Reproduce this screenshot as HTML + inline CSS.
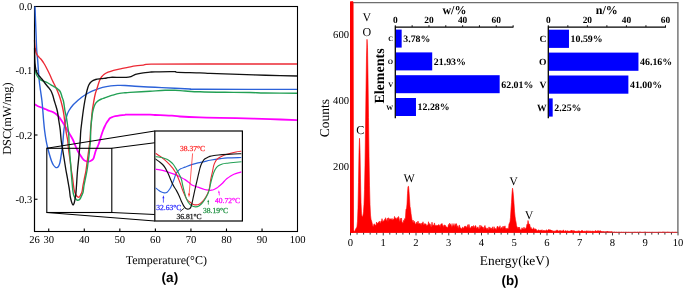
<!DOCTYPE html>
<html><head><meta charset="utf-8"><style>
html,body{margin:0;padding:0;background:#fff;}
body{width:685px;height:290px;overflow:hidden;}
svg{display:block;will-change:transform;text-rendering:geometricPrecision;}

</style></head><body>
<svg width="685" height="290" viewBox="0 0 685 290">
<rect width="685" height="290" fill="#fff"/>
<g stroke="#000" stroke-width="1.1" fill="none">
<rect x="34.5" y="6.5" width="263" height="225"/>
<line x1="34.5" y1="70.75" x2="37.5" y2="70.75"/>
<line x1="34.5" y1="135.00" x2="37.5" y2="135.00"/>
<line x1="34.5" y1="199.25" x2="37.5" y2="199.25"/>
<line x1="48.72" y1="231" x2="48.72" y2="228.5"/>
<line x1="84.28" y1="231" x2="84.28" y2="228.5"/>
<line x1="119.83" y1="231" x2="119.83" y2="228.5"/>
<line x1="155.38" y1="231" x2="155.38" y2="228.5"/>
<line x1="190.94" y1="231" x2="190.94" y2="228.5"/>
<line x1="226.49" y1="231" x2="226.49" y2="228.5"/>
<line x1="262.05" y1="231" x2="262.05" y2="228.5"/>
</g>
<text x="32.20" y="10.10" font-family="Liberation Serif" font-size="10.6" font-weight="normal" text-anchor="end" fill="#000" >0.0</text>
<text x="32.20" y="74.35" font-family="Liberation Serif" font-size="10.6" font-weight="normal" text-anchor="end" fill="#000" >-0.1</text>
<text x="32.20" y="138.60" font-family="Liberation Serif" font-size="10.6" font-weight="normal" text-anchor="end" fill="#000" >-0.2</text>
<text x="32.20" y="202.85" font-family="Liberation Serif" font-size="10.6" font-weight="normal" text-anchor="end" fill="#000" >-0.3</text>
<text x="34.50" y="242.50" font-family="Liberation Serif" font-size="10.6" font-weight="normal" text-anchor="middle" fill="#000" >26</text>
<text x="48.72" y="242.50" font-family="Liberation Serif" font-size="10.6" font-weight="normal" text-anchor="middle" fill="#000" >30</text>
<text x="84.28" y="242.50" font-family="Liberation Serif" font-size="10.6" font-weight="normal" text-anchor="middle" fill="#000" >40</text>
<text x="119.83" y="242.50" font-family="Liberation Serif" font-size="10.6" font-weight="normal" text-anchor="middle" fill="#000" >50</text>
<text x="155.38" y="242.50" font-family="Liberation Serif" font-size="10.6" font-weight="normal" text-anchor="middle" fill="#000" >60</text>
<text x="190.94" y="242.50" font-family="Liberation Serif" font-size="10.6" font-weight="normal" text-anchor="middle" fill="#000" >70</text>
<text x="226.49" y="242.50" font-family="Liberation Serif" font-size="10.6" font-weight="normal" text-anchor="middle" fill="#000" >80</text>
<text x="262.05" y="242.50" font-family="Liberation Serif" font-size="10.6" font-weight="normal" text-anchor="middle" fill="#000" >90</text>
<text x="297.60" y="242.50" font-family="Liberation Serif" font-size="10.6" font-weight="normal" text-anchor="middle" fill="#000" >100</text>
<text x="0.00" y="0.00" font-family="Liberation Serif" font-size="12.3" font-weight="normal" text-anchor="middle" fill="#000" transform="translate(11.3,118.6) rotate(-90)">DSC(mW/mg)</text>
<text x="166.30" y="264.40" font-family="Liberation Serif" font-size="12" font-weight="normal" text-anchor="middle" fill="#000" >Temperature(°C)</text>
<text x="169.90" y="282.20" font-family="Liberation Sans" font-size="13.6" font-weight="bold" text-anchor="middle" fill="#000" >(a)</text>
<path d="M34.50,104.20 C35.08,104.53 36.50,105.52 38.00,106.20 C39.50,106.88 42.00,107.70 43.50,108.30 C45.00,108.90 45.92,109.35 47.00,109.80 C48.08,110.25 49.00,110.62 50.00,111.00 C51.00,111.38 52.00,111.60 53.00,112.10 C54.00,112.60 55.05,113.25 56.00,114.00 C56.95,114.75 57.78,115.52 58.70,116.60 C59.62,117.68 60.55,119.07 61.50,120.50 C62.45,121.93 63.48,123.70 64.40,125.20 C65.32,126.70 66.07,127.93 67.00,129.50 C67.93,131.07 69.03,132.93 70.00,134.60 C70.97,136.27 71.88,137.60 72.80,139.50 C73.72,141.40 74.63,144.00 75.50,146.00 C76.37,148.00 77.17,149.92 78.00,151.50 C78.83,153.08 79.75,154.33 80.50,155.50 C81.25,156.67 81.83,157.67 82.50,158.50 C83.17,159.33 83.62,159.98 84.50,160.50 C85.38,161.02 86.80,161.52 87.80,161.60 C88.80,161.68 89.60,161.43 90.50,161.00 C91.40,160.57 92.55,159.92 93.20,159.00 C93.85,158.08 93.98,156.83 94.40,155.50 C94.82,154.17 95.23,152.33 95.70,151.00 C96.17,149.67 96.70,148.67 97.20,147.50 C97.70,146.33 98.23,145.25 98.70,144.00 C99.17,142.75 99.57,141.42 100.00,140.00 C100.43,138.58 100.80,137.08 101.30,135.50 C101.80,133.92 102.43,132.00 103.00,130.50 C103.57,129.00 104.13,127.73 104.70,126.50 C105.27,125.27 105.82,124.10 106.40,123.10 C106.98,122.10 107.63,121.30 108.20,120.50 C108.77,119.70 109.08,118.88 109.80,118.30 C110.52,117.72 111.58,117.35 112.50,117.00 C113.42,116.65 114.05,116.47 115.30,116.20 C116.55,115.93 118.38,115.63 120.00,115.40 C121.62,115.17 123.67,114.93 125.00,114.80 C126.33,114.67 123.83,114.63 128.00,114.60 C132.17,114.57 145.50,114.53 150.00,114.60 C154.50,114.67 152.50,114.88 155.00,115.00 C157.50,115.12 162.17,115.18 165.00,115.30 C167.83,115.42 169.50,115.50 172.00,115.70 C174.50,115.90 175.33,116.22 180.00,116.50 C184.67,116.78 193.33,117.17 200.00,117.40 C206.67,117.63 212.50,117.73 220.00,117.90 C227.50,118.07 236.67,118.20 245.00,118.40 C253.33,118.60 261.33,118.80 270.00,119.10 C278.67,119.40 292.50,120.02 297.00,120.20" fill="none" stroke="#ff00ff" stroke-width="1.8" stroke-linejoin="round"/>
<path d="M35.00,6.50 C35.08,8.75 35.32,15.25 35.50,20.00 C35.68,24.75 35.90,30.00 36.10,35.00 C36.30,40.00 36.43,45.75 36.70,50.00 C36.97,54.25 37.42,57.08 37.70,60.50 C37.98,63.92 38.15,67.17 38.40,70.50 C38.65,73.83 38.85,77.17 39.20,80.50 C39.55,83.83 40.05,87.17 40.50,90.50 C40.95,93.83 41.52,97.17 41.90,100.50 C42.28,103.83 42.52,107.17 42.80,110.50 C43.08,113.83 43.30,117.17 43.60,120.50 C43.90,123.83 44.18,127.17 44.60,130.50 C45.02,133.83 45.60,137.67 46.10,140.50 C46.60,143.33 47.02,145.08 47.60,147.50 C48.18,149.92 48.95,152.75 49.60,155.00 C50.25,157.25 50.87,159.33 51.50,161.00 C52.13,162.67 52.75,163.97 53.40,165.00 C54.05,166.03 54.80,166.77 55.40,167.20 C56.00,167.63 56.48,167.73 57.00,167.60 C57.52,167.47 58.00,167.28 58.50,166.40 C59.00,165.52 59.58,163.95 60.00,162.30 C60.42,160.65 60.70,158.38 61.00,156.50 C61.30,154.62 61.55,152.83 61.80,151.00 C62.05,149.17 62.30,147.25 62.50,145.50 C62.70,143.75 62.80,142.75 63.00,140.50 C63.20,138.25 63.45,134.42 63.70,132.00 C63.95,129.58 64.17,127.92 64.50,126.00 C64.83,124.08 65.28,122.33 65.70,120.50 C66.12,118.67 66.45,116.67 67.00,115.00 C67.55,113.33 68.00,112.17 69.00,110.50 C70.00,108.83 71.55,106.67 73.00,105.00 C74.45,103.33 76.20,101.83 77.70,100.50 C79.20,99.17 80.62,98.02 82.00,97.00 C83.38,95.98 84.67,95.22 86.00,94.40 C87.33,93.58 88.45,92.87 90.00,92.10 C91.55,91.33 93.20,90.58 95.30,89.80 C97.40,89.02 100.02,88.05 102.60,87.40 C105.18,86.75 108.28,86.23 110.80,85.90 C113.32,85.57 115.33,85.47 117.70,85.40 C120.07,85.33 122.12,85.35 125.00,85.50 C127.88,85.65 130.00,86.00 135.00,86.30 C140.00,86.60 148.33,86.97 155.00,87.30 C161.67,87.63 169.17,88.02 175.00,88.30 C180.83,88.58 185.83,88.83 190.00,89.00 C194.17,89.17 182.17,89.23 200.00,89.30 C217.83,89.37 280.83,89.38 297.00,89.40" fill="none" stroke="#2c62d9" stroke-width="1.4" stroke-linejoin="round"/>
<path d="M34.50,40.00 C34.55,40.83 34.65,43.42 34.80,45.00 C34.95,46.58 35.17,48.17 35.40,49.50 C35.63,50.83 35.88,52.05 36.20,53.00 C36.52,53.95 36.90,54.57 37.30,55.20 C37.70,55.83 38.10,56.25 38.60,56.80 C39.10,57.35 39.73,57.88 40.30,58.50 C40.87,59.12 41.38,59.67 42.00,60.50 C42.62,61.33 43.33,62.42 44.00,63.50 C44.67,64.58 45.37,65.83 46.00,67.00 C46.63,68.17 47.10,69.08 47.80,70.50 C48.50,71.92 49.43,73.83 50.20,75.50 C50.97,77.17 51.62,78.83 52.40,80.50 C53.18,82.17 54.10,83.83 54.90,85.50 C55.70,87.17 56.48,88.83 57.20,90.50 C57.92,92.17 58.60,93.83 59.20,95.50 C59.80,97.17 60.32,98.83 60.80,100.50 C61.28,102.17 61.70,103.83 62.10,105.50 C62.50,107.17 62.88,108.83 63.20,110.50 C63.52,112.17 63.77,113.83 64.00,115.50 C64.23,117.17 64.38,118.83 64.60,120.50 C64.82,122.17 65.08,123.83 65.30,125.50 C65.52,127.17 65.65,128.83 65.90,130.50 C66.15,132.17 66.50,133.83 66.80,135.50 C67.10,137.17 67.43,138.42 67.70,140.50 C67.97,142.58 68.12,145.50 68.40,148.00 C68.68,150.50 69.08,153.22 69.40,155.50 C69.72,157.78 70.03,159.62 70.30,161.70 C70.57,163.78 70.78,166.28 71.00,168.00 C71.22,169.72 71.38,170.67 71.60,172.00 C71.82,173.33 72.03,174.17 72.30,176.00 C72.57,177.83 72.90,180.72 73.20,183.00 C73.50,185.28 73.75,187.93 74.10,189.70 C74.45,191.47 74.83,192.52 75.30,193.60 C75.77,194.68 76.40,195.60 76.90,196.20 C77.40,196.80 77.83,197.13 78.30,197.20 C78.77,197.27 79.25,197.12 79.70,196.60 C80.15,196.08 80.60,194.97 81.00,194.10 C81.40,193.23 81.77,192.83 82.10,191.40 C82.43,189.97 82.60,187.73 83.00,185.50 C83.40,183.27 84.00,180.50 84.50,178.00 C85.00,175.50 85.58,173.00 86.00,170.50 C86.42,168.00 86.67,165.50 87.00,163.00 C87.33,160.50 87.67,158.00 88.00,155.50 C88.33,153.00 88.67,150.50 89.00,148.00 C89.33,145.50 89.72,143.42 90.00,140.50 C90.28,137.58 90.47,133.83 90.70,130.50 C90.93,127.17 91.13,123.83 91.40,120.50 C91.67,117.17 91.95,113.42 92.30,110.50 C92.65,107.58 93.17,105.00 93.50,103.00 C93.83,101.00 93.97,100.17 94.30,98.50 C94.63,96.83 95.05,94.67 95.50,93.00 C95.95,91.33 96.52,90.00 97.00,88.50 C97.48,87.00 97.93,85.42 98.40,84.00 C98.87,82.58 99.28,81.17 99.80,80.00 C100.32,78.83 100.82,77.92 101.50,77.00 C102.18,76.08 102.80,75.30 103.90,74.50 C105.00,73.70 106.48,72.90 108.10,72.20 C109.72,71.50 111.53,70.87 113.60,70.30 C115.67,69.73 118.13,69.28 120.50,68.80 C122.87,68.32 125.30,67.88 127.80,67.40 C130.30,66.92 132.92,66.28 135.50,65.90 C138.08,65.52 140.72,65.38 143.30,65.10 C145.88,64.82 141.55,64.38 151.00,64.20 C160.45,64.02 175.67,64.03 200.00,64.00 C224.33,63.97 280.83,64.00 297.00,64.00" fill="none" stroke="#ec2a35" stroke-width="1.35" stroke-linejoin="round"/>
<path d="M34.80,69.00 C35.00,69.75 35.55,72.25 36.00,73.50 C36.45,74.75 36.92,75.58 37.50,76.50 C38.08,77.42 38.75,78.32 39.50,79.00 C40.25,79.68 40.97,80.12 42.00,80.60 C43.03,81.08 44.70,81.50 45.70,81.90 C46.70,82.30 47.13,82.52 48.00,83.00 C48.87,83.48 49.98,84.25 50.90,84.80 C51.82,85.35 52.63,85.80 53.50,86.30 C54.37,86.80 55.35,87.30 56.10,87.80 C56.85,88.30 57.38,88.77 58.00,89.30 C58.62,89.83 59.30,90.30 59.80,91.00 C60.30,91.70 60.62,92.47 61.00,93.50 C61.38,94.53 61.72,96.03 62.10,97.20 C62.48,98.37 62.95,99.12 63.30,100.50 C63.65,101.88 63.93,103.83 64.20,105.50 C64.47,107.17 64.60,108.83 64.90,110.50 C65.20,112.17 65.67,113.83 66.00,115.50 C66.33,117.17 66.63,118.83 66.90,120.50 C67.17,122.17 67.37,123.83 67.60,125.50 C67.83,127.17 68.10,128.83 68.30,130.50 C68.50,132.17 68.67,133.28 68.80,135.50 C68.93,137.72 68.97,141.27 69.10,143.80 C69.23,146.33 69.40,147.95 69.60,150.70 C69.80,153.45 70.08,157.58 70.30,160.30 C70.52,163.02 70.70,164.40 70.90,167.00 C71.10,169.60 71.28,173.07 71.50,175.90 C71.72,178.73 71.97,181.48 72.20,184.00 C72.43,186.52 72.67,189.20 72.90,191.00 C73.13,192.80 73.28,193.70 73.60,194.80 C73.92,195.90 74.30,196.78 74.80,197.60 C75.30,198.42 76.08,199.25 76.60,199.70 C77.12,200.15 77.33,200.42 77.90,200.30 C78.47,200.18 79.37,199.80 80.00,199.00 C80.63,198.20 81.18,196.65 81.70,195.50 C82.22,194.35 82.72,193.77 83.10,192.10 C83.48,190.43 83.60,187.85 84.00,185.50 C84.40,183.15 85.00,180.50 85.50,178.00 C86.00,175.50 86.58,173.00 87.00,170.50 C87.42,168.00 87.67,165.50 88.00,163.00 C88.33,160.50 88.72,158.00 89.00,155.50 C89.28,153.00 89.45,150.50 89.70,148.00 C89.95,145.50 90.35,143.50 90.50,140.50 C90.65,137.50 90.48,132.75 90.60,130.00 C90.72,127.25 90.98,126.07 91.20,124.00 C91.42,121.93 91.68,119.43 91.90,117.60 C92.12,115.77 92.27,114.38 92.50,113.00 C92.73,111.62 93.02,110.42 93.30,109.30 C93.58,108.18 93.87,107.22 94.20,106.30 C94.53,105.38 94.87,104.53 95.30,103.80 C95.73,103.07 96.22,102.48 96.80,101.90 C97.38,101.32 98.02,100.78 98.80,100.30 C99.58,99.82 100.58,99.38 101.50,99.00 C102.42,98.62 103.22,98.38 104.30,98.00 C105.38,97.62 106.62,97.17 108.00,96.70 C109.38,96.23 110.68,95.75 112.60,95.20 C114.52,94.65 117.43,93.80 119.50,93.40 C121.57,93.00 123.25,92.97 125.00,92.80 C126.75,92.63 125.83,92.67 130.00,92.40 C134.17,92.13 144.17,91.55 150.00,91.20 C155.83,90.85 160.83,90.45 165.00,90.30 C169.17,90.15 171.67,90.18 175.00,90.30 C178.33,90.42 180.83,90.75 185.00,91.00 C189.17,91.25 193.33,91.58 200.00,91.80 C206.67,92.02 216.67,92.18 225.00,92.30 C233.33,92.42 243.33,92.38 250.00,92.50 C256.67,92.62 257.17,92.87 265.00,93.00 C272.83,93.13 291.67,93.25 297.00,93.30" fill="none" stroke="#23a055" stroke-width="1.4" stroke-linejoin="round"/>
<path d="M34.60,48.00 C34.63,50.00 34.68,57.00 34.80,60.00 C34.92,63.00 35.07,64.17 35.30,66.00 C35.53,67.83 35.75,69.58 36.20,71.00 C36.65,72.42 37.28,73.42 38.00,74.50 C38.72,75.58 39.67,76.50 40.50,77.50 C41.33,78.50 42.08,79.33 43.00,80.50 C43.92,81.67 45.08,83.33 46.00,84.50 C46.92,85.67 47.70,86.50 48.50,87.50 C49.30,88.50 50.10,89.25 50.80,90.50 C51.50,91.75 52.13,93.33 52.70,95.00 C53.27,96.67 53.68,98.75 54.20,100.50 C54.72,102.25 55.30,103.83 55.80,105.50 C56.30,107.17 56.82,108.83 57.20,110.50 C57.58,112.17 57.83,113.83 58.10,115.50 C58.37,117.17 58.55,118.83 58.80,120.50 C59.05,122.17 59.35,123.83 59.60,125.50 C59.85,127.17 60.03,128.00 60.30,130.50 C60.57,133.00 60.85,137.58 61.20,140.50 C61.55,143.42 62.00,145.50 62.40,148.00 C62.80,150.50 63.20,153.00 63.60,155.50 C64.00,158.00 64.40,160.50 64.80,163.00 C65.20,165.50 65.57,168.00 66.00,170.50 C66.43,173.00 66.95,175.50 67.40,178.00 C67.85,180.50 68.33,183.33 68.70,185.50 C69.07,187.67 69.33,189.10 69.60,191.00 C69.87,192.90 69.95,195.00 70.30,196.90 C70.65,198.80 71.28,201.08 71.70,202.40 C72.12,203.72 72.45,204.52 72.80,204.80 C73.15,205.08 73.47,204.85 73.80,204.10 C74.13,203.35 74.47,201.97 74.80,200.30 C75.13,198.63 75.53,196.32 75.80,194.10 C76.07,191.88 76.12,190.93 76.40,187.00 C76.68,183.07 77.07,175.75 77.50,170.50 C77.93,165.25 78.55,160.50 79.00,155.50 C79.45,150.50 79.90,144.67 80.20,140.50 C80.50,136.33 80.50,133.83 80.80,130.50 C81.10,127.17 81.58,123.83 82.00,120.50 C82.42,117.17 82.82,113.83 83.30,110.50 C83.78,107.17 84.28,103.83 84.90,100.50 C85.52,97.17 86.35,93.08 87.00,90.50 C87.65,87.92 88.05,86.50 88.80,85.00 C89.55,83.50 90.35,82.42 91.50,81.50 C92.65,80.58 94.08,79.97 95.70,79.50 C97.32,79.03 99.37,78.95 101.20,78.70 C103.03,78.45 105.10,78.23 106.70,78.00 C108.30,77.77 107.17,77.43 110.80,77.30 C114.43,77.17 124.38,77.68 128.50,77.20 C132.62,76.72 133.03,75.13 135.50,74.40 C137.97,73.67 140.88,73.17 143.30,72.80 C145.72,72.43 148.05,72.37 150.00,72.20 C151.95,72.03 151.00,71.90 155.00,71.80 C159.00,71.70 170.17,71.52 174.00,71.60 C177.83,71.68 173.67,72.10 178.00,72.30 C182.33,72.50 194.67,72.62 200.00,72.80 C205.33,72.98 204.67,73.17 210.00,73.40 C215.33,73.63 224.67,73.95 232.00,74.20 C239.33,74.45 246.00,74.67 254.00,74.90 C262.00,75.13 272.83,75.42 280.00,75.60 C287.17,75.78 294.17,75.93 297.00,76.00" fill="none" stroke="#111" stroke-width="1.35" stroke-linejoin="round"/>
<line x1="34.5" y1="30" x2="34.5" y2="231" stroke="#000" stroke-width="1.1"/>
<g stroke="#000" stroke-width="1.1" fill="none">
<rect x="46.8" y="148.3" width="65" height="64.2"/>
<line x1="46.8" y1="148.3" x2="154.8" y2="131"/>
<line x1="111.8" y1="148.3" x2="154.8" y2="142.7"/>
<line x1="46.8" y1="212.5" x2="154.8" y2="221"/>
<line x1="111.8" y1="212.5" x2="154.8" y2="214.5"/>
</g>
<rect x="154.8" y="131" width="87.6" height="90" fill="#fff" stroke="#000" stroke-width="1.2"/>
<clipPath id="ic"><rect x="155.4" y="131.6" width="86.4" height="88.8"/></clipPath><g clip-path="url(#ic)">
<path d="M155.40,169.20 C156.17,169.32 158.37,169.57 160.00,169.90 C161.63,170.23 163.48,170.70 165.20,171.20 C166.92,171.70 168.58,172.32 170.30,172.90 C172.02,173.48 173.77,173.97 175.50,174.70 C177.23,175.43 179.12,176.48 180.70,177.30 C182.28,178.12 183.48,178.62 185.00,179.60 C186.52,180.58 188.57,182.27 189.80,183.20 C191.03,184.13 191.03,184.53 192.40,185.20 C193.77,185.87 195.97,186.48 198.00,187.20 C200.03,187.92 202.77,189.00 204.60,189.50 C206.43,190.00 207.85,190.08 209.00,190.20 C210.15,190.32 210.67,190.32 211.50,190.20 C212.33,190.08 213.13,189.85 214.00,189.50 C214.87,189.15 215.82,188.68 216.70,188.10 C217.58,187.52 218.43,186.72 219.30,186.00 C220.17,185.28 221.03,184.63 221.90,183.80 C222.77,182.97 223.65,181.87 224.50,181.00 C225.35,180.13 226.03,179.40 227.00,178.60 C227.97,177.80 229.15,176.92 230.30,176.20 C231.45,175.48 232.62,174.87 233.90,174.30 C235.18,173.73 236.75,173.20 238.00,172.80 C239.25,172.40 240.83,172.05 241.40,171.90" fill="none" stroke="#ff00ff" stroke-width="1.25" stroke-linejoin="round"/>
<path d="M155.40,187.70 C155.85,188.07 157.18,189.22 158.10,189.90 C159.02,190.58 159.87,191.30 160.90,191.80 C161.93,192.30 163.27,192.83 164.30,192.90 C165.33,192.97 166.17,192.88 167.10,192.20 C168.03,191.52 169.10,190.05 169.90,188.80 C170.70,187.55 171.25,186.17 171.90,184.70 C172.55,183.23 173.13,181.78 173.80,180.00 C174.47,178.22 175.18,175.52 175.90,174.00 C176.62,172.48 177.30,171.77 178.10,170.90 C178.90,170.03 179.55,169.43 180.70,168.80 C181.85,168.17 183.18,167.80 185.00,167.10 C186.82,166.40 189.43,165.30 191.60,164.60 C193.77,163.90 195.87,163.40 198.00,162.90 C200.13,162.40 202.40,162.03 204.40,161.60 C206.40,161.17 207.28,160.80 210.00,160.30 C212.72,159.80 217.77,159.00 220.70,158.60 C223.63,158.20 224.15,158.08 227.60,157.90 C231.05,157.72 239.10,157.57 241.40,157.50" fill="none" stroke="#2c62d9" stroke-width="1.15" stroke-linejoin="round"/>
<path d="M155.40,153.10 C156.17,153.63 158.67,155.33 160.00,156.30 C161.33,157.27 162.25,157.97 163.40,158.90 C164.55,159.83 165.82,160.90 166.90,161.90 C167.98,162.90 168.90,163.82 169.90,164.90 C170.90,165.98 172.03,167.25 172.90,168.40 C173.77,169.55 174.38,170.58 175.10,171.80 C175.82,173.02 176.55,174.33 177.20,175.70 C177.85,177.07 178.45,178.62 179.00,180.00 C179.55,181.38 179.97,182.50 180.50,184.00 C181.03,185.50 181.62,187.42 182.20,189.00 C182.78,190.58 183.32,191.92 184.00,193.50 C184.68,195.08 185.60,197.28 186.30,198.50 C187.00,199.72 187.50,200.13 188.20,200.80 C188.90,201.47 189.65,201.90 190.50,202.50 C191.35,203.10 192.13,204.02 193.30,204.40 C194.47,204.78 196.27,205.00 197.50,204.80 C198.73,204.60 199.53,204.17 200.70,203.20 C201.87,202.23 203.33,200.63 204.50,199.00 C205.67,197.37 206.87,195.32 207.70,193.40 C208.53,191.48 209.00,189.82 209.50,187.50 C210.00,185.18 210.22,182.08 210.70,179.50 C211.18,176.92 211.90,174.30 212.40,172.00 C212.90,169.70 213.23,167.37 213.70,165.70 C214.17,164.03 214.70,163.00 215.20,162.00 C215.70,161.00 216.07,160.40 216.70,159.70 C217.33,159.00 218.13,158.38 219.00,157.80 C219.87,157.22 220.73,156.73 221.90,156.20 C223.07,155.67 224.57,155.08 226.00,154.60 C227.43,154.12 228.83,153.73 230.50,153.30 C232.17,152.87 234.18,152.35 236.00,152.00 C237.82,151.65 240.50,151.33 241.40,151.20" fill="none" stroke="#ec2a35" stroke-width="1.1" stroke-linejoin="round"/>
<path d="M155.40,156.60 C156.17,156.70 158.67,156.97 160.00,157.20 C161.33,157.43 162.25,157.65 163.40,158.00 C164.55,158.35 165.75,158.72 166.90,159.30 C168.05,159.88 169.22,160.63 170.30,161.50 C171.38,162.37 172.47,163.35 173.40,164.50 C174.33,165.65 175.12,167.12 175.90,168.40 C176.68,169.68 177.37,170.83 178.10,172.20 C178.83,173.57 179.72,175.30 180.30,176.60 C180.88,177.90 181.22,178.60 181.60,180.00 C181.98,181.40 182.20,183.23 182.60,185.00 C183.00,186.77 183.47,188.58 184.00,190.60 C184.53,192.62 185.10,195.17 185.80,197.10 C186.50,199.03 187.27,200.80 188.20,202.20 C189.13,203.60 190.17,204.72 191.40,205.50 C192.63,206.28 194.35,206.82 195.60,206.90 C196.85,206.98 197.73,206.70 198.90,206.00 C200.07,205.30 201.37,204.18 202.60,202.70 C203.83,201.22 205.22,199.12 206.30,197.10 C207.38,195.08 208.40,192.78 209.10,190.60 C209.80,188.42 210.08,185.85 210.50,184.00 C210.92,182.15 211.20,181.00 211.60,179.50 C212.00,178.00 212.48,176.30 212.90,175.00 C213.32,173.70 213.62,172.78 214.10,171.70 C214.58,170.62 215.27,169.35 215.80,168.50 C216.33,167.65 216.63,167.18 217.30,166.60 C217.97,166.02 218.97,165.43 219.80,165.00 C220.63,164.57 221.22,164.28 222.30,164.00 C223.38,163.72 224.88,163.50 226.30,163.30 C227.72,163.10 228.25,163.07 230.80,162.80 C233.35,162.53 239.80,161.88 241.60,161.70" fill="none" stroke="#23a055" stroke-width="1.15" stroke-linejoin="round"/>
<path d="M155.20,158.80 C156.00,159.38 158.77,161.35 160.00,162.30 C161.23,163.25 161.73,163.57 162.60,164.50 C163.47,165.43 164.42,166.68 165.20,167.90 C165.98,169.12 166.65,170.50 167.30,171.80 C167.95,173.10 168.52,174.33 169.10,175.70 C169.68,177.07 170.27,178.70 170.80,180.00 C171.33,181.30 171.68,182.25 172.30,183.50 C172.92,184.75 173.80,186.32 174.50,187.50 C175.20,188.68 175.70,189.15 176.50,190.60 C177.30,192.05 178.45,194.33 179.30,196.20 C180.15,198.07 180.82,200.10 181.60,201.80 C182.38,203.50 183.22,205.23 184.00,206.40 C184.78,207.57 185.38,208.40 186.30,208.80 C187.22,209.20 188.73,209.12 189.50,208.80 C190.27,208.48 190.50,207.77 190.90,206.90 C191.30,206.03 191.50,205.23 191.90,203.60 C192.30,201.97 192.83,199.27 193.30,197.10 C193.77,194.93 194.23,192.70 194.70,190.60 C195.17,188.50 195.65,186.43 196.10,184.50 C196.55,182.57 196.93,181.00 197.40,179.00 C197.87,177.00 198.45,174.40 198.90,172.50 C199.35,170.60 199.68,169.02 200.10,167.60 C200.52,166.18 200.78,165.28 201.40,164.00 C202.02,162.72 202.95,160.90 203.80,159.90 C204.65,158.90 205.50,158.58 206.50,158.00 C207.50,157.42 208.55,156.82 209.80,156.40 C211.05,155.98 212.57,155.73 214.00,155.50 C215.43,155.27 215.65,155.23 218.40,155.00 C221.15,154.77 226.67,154.32 230.50,154.10 C234.33,153.88 239.58,153.77 241.40,153.70" fill="none" stroke="#111" stroke-width="1.15" stroke-linejoin="round"/>
</g>
<text x="192.50" y="150.80" font-family="Liberation Serif" font-size="7.6" font-weight="normal" text-anchor="middle" fill="#ff2a2a" stroke="#ff2a2a" stroke-width="0.25">38.37°C</text>
<text x="168.80" y="210.20" font-family="Liberation Serif" font-size="7.6" font-weight="normal" text-anchor="middle" fill="#2b2bff" stroke="#2b2bff" stroke-width="0.25">32.63°C</text>
<text x="189.10" y="218.80" font-family="Liberation Serif" font-size="7.6" font-weight="normal" text-anchor="middle" fill="#111" stroke="#111" stroke-width="0.25">36.81°C</text>
<text x="215.50" y="212.90" font-family="Liberation Serif" font-size="7.6" font-weight="normal" text-anchor="middle" fill="#1e9040" stroke="#1e9040" stroke-width="0.25">38.19°C</text>
<text x="227.60" y="203.30" font-family="Liberation Serif" font-size="7.6" font-weight="normal" text-anchor="middle" fill="#ff00ff" stroke="#ff00ff" stroke-width="0.25">40.72°C</text>
<line x1="192.6" y1="153.4" x2="189.1" y2="194.5" stroke="#ff2a2a" stroke-width="0.75"/>
<path d="M188.0,193.6 L189.0,197.6 L190.1,193.8 Z" fill="#ff2a2a"/>
<line x1="163.4" y1="202.6" x2="163.4" y2="197" stroke="#2b2bff" stroke-width="0.75"/>
<path d="M162.4,198.2 L163.4,195.2 L164.4,198.2 Z" fill="#2b2bff"/>
<line x1="180.1" y1="211.5" x2="184" y2="208.3" stroke="#111" stroke-width="0.8"/>
<line x1="208.4" y1="204.6" x2="208.3" y2="201" stroke="#1e9040" stroke-width="0.75"/>
<path d="M207.4,201.9 L208.2,199.4 L209.2,201.9 Z" fill="#1e9040"/>
<line x1="219.4" y1="195.4" x2="219.0" y2="192" stroke="#ff00ff" stroke-width="0.75"/>
<path d="M218.0,192.7 L218.8,190.2 L219.8,192.6 Z" fill="#ff00ff"/>
<polygon points="350.50,232.50 350.50,1.50 351.00,1.50 351.50,1.50 352.00,1.50 352.50,1.50 353.00,1.50 353.50,229.38 354.00,231.15 354.50,231.51 355.00,230.75 355.50,229.31 356.00,228.30 356.50,228.33 357.00,226.37 357.50,221.16 358.00,207.79 358.50,182.37 359.00,152.61 359.50,138.27 360.00,150.89 360.50,178.89 361.00,202.46 361.50,213.81 362.00,216.56 362.50,216.73 363.00,215.23 363.50,211.69 364.00,204.19 364.50,189.67 365.00,165.15 365.50,130.31 366.00,90.27 366.50,55.87 367.00,39.35 367.50,47.46 368.00,77.12 368.50,117.43 369.00,156.19 369.50,185.79 370.00,204.63 370.50,215.06 371.00,219.31 371.50,220.80 372.00,222.53 372.50,224.98 373.00,226.52 373.50,226.02 374.00,223.79 374.50,224.25 375.00,224.69 375.50,225.04 376.00,225.69 376.50,222.03 377.00,223.83 377.50,222.98 378.00,223.54 378.50,222.09 379.00,222.31 379.50,221.17 380.00,222.88 380.50,223.25 381.00,221.03 381.50,221.71 382.00,218.66 382.50,221.14 383.00,221.85 383.50,220.82 384.00,221.14 384.50,219.45 385.00,220.22 385.50,217.72 386.00,218.92 386.50,221.24 387.00,220.06 387.50,218.23 388.00,221.93 388.50,217.71 389.00,218.80 389.50,219.66 390.00,218.50 390.50,219.34 391.00,219.07 391.50,220.17 392.00,218.34 392.50,220.35 393.00,219.76 393.50,218.90 394.00,219.56 394.50,216.41 395.00,218.49 395.50,218.04 396.00,218.22 396.50,219.98 397.00,217.60 397.50,217.80 398.00,219.32 398.50,216.48 399.00,217.87 399.50,220.83 400.00,221.43 400.50,218.61 401.00,218.60 401.50,217.99 402.00,222.77 402.50,222.51 403.00,223.54 403.50,220.43 404.00,221.47 404.50,218.67 405.00,219.40 405.50,217.10 406.00,208.99 406.50,209.14 407.00,204.04 407.50,193.50 408.00,186.57 408.50,186.32 409.00,191.43 409.50,198.88 410.00,206.39 410.50,208.76 411.00,213.45 411.50,216.86 412.00,219.81 412.50,222.78 413.00,220.02 413.50,221.91 414.00,222.93 414.50,221.33 415.00,223.42 415.50,224.02 416.00,224.24 416.50,222.17 417.00,223.67 417.50,222.79 418.00,221.08 418.50,223.15 419.00,224.27 419.50,223.42 420.00,223.54 420.50,224.90 421.00,223.21 421.50,225.77 422.00,222.98 422.50,223.87 423.00,221.77 423.50,224.49 424.00,224.90 424.50,223.60 425.00,224.72 425.50,223.79 426.00,223.97 426.50,226.06 427.00,225.78 427.50,224.82 428.00,225.34 428.50,221.74 429.00,225.17 429.50,223.73 430.00,223.66 430.50,224.96 431.00,226.66 431.50,226.19 432.00,222.14 432.50,225.38 433.00,225.18 433.50,225.36 434.00,224.57 434.50,222.92 435.00,226.31 435.50,225.64 436.00,224.89 436.50,225.96 437.00,225.82 437.50,225.28 438.00,225.85 438.50,224.61 439.00,224.88 439.50,226.91 440.00,224.78 440.50,227.39 441.00,223.87 441.50,224.29 442.00,223.46 442.50,225.05 443.00,225.66 443.50,227.52 444.00,224.90 444.50,224.98 445.00,226.49 445.50,225.41 446.00,226.72 446.50,227.04 447.00,227.13 447.50,228.11 448.00,226.79 448.50,224.46 449.00,226.61 449.50,223.20 450.00,225.19 450.50,224.69 451.00,223.69 451.50,227.96 452.00,225.48 452.50,227.60 453.00,223.51 453.50,226.23 454.00,225.28 454.50,227.16 455.00,223.57 455.50,226.01 456.00,223.79 456.50,223.80 457.00,227.56 457.50,225.71 458.00,228.29 458.50,227.96 459.00,225.33 459.50,225.27 460.00,227.82 460.50,227.89 461.00,228.28 461.50,228.81 462.00,228.84 462.50,227.15 463.00,227.42 463.50,228.62 464.00,227.60 464.50,226.33 465.00,227.40 465.50,225.90 466.00,226.41 466.50,227.06 467.00,228.00 467.50,225.78 468.00,224.58 468.50,228.66 469.00,224.42 469.50,227.08 470.00,228.47 470.50,227.80 471.00,227.87 471.50,226.24 472.00,227.59 472.50,226.27 473.00,228.24 473.50,225.54 474.00,227.82 474.50,227.84 475.00,225.85 475.50,225.60 476.00,226.38 476.50,228.80 477.00,227.87 477.50,227.48 478.00,226.80 478.50,228.59 479.00,229.16 479.50,227.63 480.00,224.99 480.50,227.73 481.00,227.19 481.50,225.74 482.00,227.20 482.50,227.26 483.00,227.09 483.50,227.73 484.00,229.74 484.50,226.31 485.00,225.48 485.50,228.06 486.00,227.94 486.50,229.92 487.00,227.81 487.50,228.45 488.00,229.81 488.50,229.31 489.00,226.87 489.50,229.49 490.00,227.39 490.50,229.00 491.00,228.14 491.50,228.30 492.00,229.79 492.50,226.80 493.00,229.11 493.50,229.92 494.00,226.67 494.50,227.92 495.00,229.06 495.50,228.53 496.00,229.52 496.50,229.27 497.00,227.05 497.50,226.06 498.00,226.89 498.50,228.97 499.00,226.90 499.50,227.98 500.00,225.75 500.50,229.35 501.00,228.24 501.50,227.68 502.00,227.14 502.50,229.77 503.00,226.10 503.50,229.00 504.00,226.46 504.50,227.50 505.00,225.82 505.50,229.63 506.00,227.97 506.50,229.18 507.00,228.88 507.50,228.26 508.00,228.48 508.50,228.95 509.00,223.83 509.50,223.29 510.00,221.85 510.50,217.42 511.00,209.41 511.50,202.50 512.00,193.47 512.50,188.18 513.00,191.17 513.50,197.04 514.00,203.50 514.50,211.15 515.00,216.23 515.50,219.94 516.00,222.03 516.50,225.51 517.00,226.81 517.50,227.46 518.00,228.69 518.50,227.02 519.00,229.15 519.50,227.17 520.00,229.61 520.50,229.80 521.00,229.83 521.50,229.40 522.00,227.71 522.50,229.02 523.00,228.73 523.50,229.24 524.00,227.09 524.50,229.75 525.00,228.26 525.50,228.99 526.00,228.20 526.50,226.60 527.00,224.16 527.50,224.88 528.00,220.49 528.50,222.79 529.00,224.79 529.50,223.98 530.00,225.69 530.50,228.39 531.00,227.35 531.50,228.72 532.00,228.89 532.50,228.94 533.00,229.50 533.50,227.64 534.00,228.86 534.50,230.20 535.00,228.60 535.50,229.53 536.00,228.99 536.50,229.88 537.00,230.61 537.50,231.03 538.00,230.22 538.50,229.91 539.00,230.24 539.50,230.67 540.00,229.89 540.50,231.11 541.00,230.00 541.50,230.74 542.00,229.63 542.50,231.16 543.00,230.53 543.50,230.92 544.00,230.06 544.50,230.95 545.00,230.80 545.50,230.94 546.00,230.12 546.50,229.84 547.00,231.05 547.50,230.71 548.00,229.91 548.50,229.53 549.00,229.92 549.50,229.90 550.00,229.60 550.50,230.11 551.00,229.97 551.50,230.97 552.00,230.10 552.50,231.42 553.00,230.94 553.50,231.02 554.00,231.50 554.50,231.02 555.00,231.36 555.50,231.25 556.00,230.43 556.50,230.97 557.00,229.87 557.50,230.36 558.00,231.11 558.50,231.57 559.00,230.56 559.50,231.58 560.00,230.35 560.50,231.32 561.00,230.50 561.50,231.30 562.00,230.87 562.50,230.75 563.00,231.31 563.50,229.85 564.00,230.87 564.50,231.64 565.00,231.08 565.50,230.49 566.00,231.37 566.50,231.07 567.00,231.46 567.50,230.78 568.00,230.74 568.50,231.30 569.00,231.26 569.50,231.61 570.00,230.79 570.50,231.63 571.00,230.13 571.50,230.54 572.00,230.53 572.50,231.62 573.00,230.20 573.50,231.20 574.00,231.24 574.50,230.94 575.00,230.74 575.50,231.60 576.00,231.40 576.50,231.31 577.00,231.52 577.50,231.47 578.00,230.73 578.50,231.39 579.00,230.62 579.50,231.51 580.00,231.02 580.50,231.66 581.00,230.85 581.50,230.75 582.00,230.49 582.50,230.58 583.00,231.15 583.50,231.40 584.00,231.32 584.50,230.96 585.00,231.71 585.50,231.15 586.00,231.43 586.50,230.65 587.00,231.20 587.50,231.63 588.00,230.60 588.50,231.66 589.00,231.65 589.50,231.29 590.00,230.79 590.50,231.30 591.00,231.79 591.50,231.17 592.00,231.60 592.50,230.92 593.00,231.33 593.50,231.49 594.00,230.90 594.50,231.72 595.00,231.72 595.50,230.40 596.00,231.12 596.50,231.07 597.00,231.79 597.50,230.66 598.00,231.07 598.50,230.64 599.00,231.48 599.50,230.87 600.00,231.09 600.50,230.79 601.00,231.10 601.50,231.90 602.00,231.15 602.50,231.90 603.00,231.72 603.50,231.54 604.00,231.90 604.50,231.90 605.00,231.41 605.50,231.90 606.00,231.82 606.50,231.85 607.00,231.29 607.50,231.49 608.00,231.20 608.50,231.90 609.00,231.90 609.50,231.84 610.00,231.90 610.50,231.88 611.00,231.87 611.50,231.90 612.00,231.53 612.50,232.24 613.00,231.97 613.50,232.33 614.00,232.40 614.50,231.88 615.00,231.93 615.50,232.50 616.00,232.50 616.50,232.28 617.00,232.50 617.50,232.50 618.00,232.50 618.50,232.34 619.00,232.40 619.50,232.35 620.00,232.35 620.50,232.50 621.00,232.36 621.50,232.28 622.00,232.50 622.50,232.50 623.00,232.50 623.50,232.37 624.00,232.50 624.50,232.50 625.00,232.31 625.50,232.36 626.00,232.37 626.50,232.41 627.00,232.24 627.50,232.50 628.00,232.48 628.50,232.38 629.00,232.15 629.50,232.50 630.00,232.50 630.50,232.48 631.00,232.42 631.50,232.50 632.00,232.50 632.50,232.50 633.00,232.35 633.50,232.45 634.00,232.50 634.50,232.32 635.00,232.50 635.50,232.37 636.00,232.30 636.50,232.50 637.00,232.28 637.50,232.28 638.00,232.47 638.50,232.50 639.00,232.50 639.50,232.16 640.00,232.50 640.50,232.22 641.00,232.41 641.50,232.50 642.00,232.22 642.50,232.50 643.00,232.50 643.50,232.43 644.00,232.37 644.50,232.24 645.00,232.50 645.50,232.19 646.00,232.24 646.50,232.50 647.00,232.47 647.50,232.45 648.00,232.50 648.50,232.50 649.00,232.17 649.50,232.43 650.00,232.18 650.50,232.50 651.00,232.50 651.50,232.50 652.00,232.50 652.50,232.42 653.00,232.39 653.50,232.50 654.00,232.50 654.50,232.49 655.00,232.45 655.50,232.50 656.00,232.50 656.50,232.50 657.00,232.36 657.50,232.50 658.00,232.50 658.50,232.37 659.00,232.44 659.50,232.35 660.00,232.39 660.50,232.39 661.00,232.43 661.50,232.50 662.00,232.46 662.50,232.17 663.00,232.34 663.50,232.16 664.00,232.50 664.50,232.34 665.00,232.46 665.50,232.42 666.00,232.23 666.50,232.40 667.00,232.37 667.50,232.18 668.00,232.36 668.50,232.31 669.00,232.34 669.50,232.40 670.00,232.40 670.50,232.50 671.00,232.33 671.50,232.50 672.00,232.50 672.50,232.30 673.00,232.43 673.50,232.50 674.00,232.50 674.50,232.46 675.00,232.27 675.50,232.41 676.00,232.43 676.50,232.50 677.00,232.50 677.50,232.50 678.00,232.31 678.00,232.50" fill="#ff0000" stroke="#ff0000" stroke-width="0.6" stroke-linejoin="round"/>
<line x1="350.5" y1="232.2" x2="612" y2="232.2" stroke="#f00" stroke-width="0.8"/>
<line x1="600" y1="232.3" x2="678" y2="232.3" stroke="#c23a40" stroke-width="1"/>
<path d="M350.8,233 L350.8,2.6 L677.9,2.6 L677.9,233" fill="none" stroke="#6e6e6e" stroke-width="1.4"/>
<rect x="350" y="2" width="3.3" height="231" fill="#ff0000"/>
<g stroke="#222" stroke-width="0.9">
<line x1="350.50" y1="232.8" x2="350.50" y2="235.40"/>
<line x1="357.05" y1="232.8" x2="357.05" y2="234.60"/>
<line x1="363.60" y1="232.8" x2="363.60" y2="234.60"/>
<line x1="370.15" y1="232.8" x2="370.15" y2="234.60"/>
<line x1="376.70" y1="232.8" x2="376.70" y2="234.60"/>
<line x1="383.25" y1="232.8" x2="383.25" y2="235.40"/>
<line x1="389.80" y1="232.8" x2="389.80" y2="234.60"/>
<line x1="396.35" y1="232.8" x2="396.35" y2="234.60"/>
<line x1="402.90" y1="232.8" x2="402.90" y2="234.60"/>
<line x1="409.45" y1="232.8" x2="409.45" y2="234.60"/>
<line x1="416.00" y1="232.8" x2="416.00" y2="235.40"/>
<line x1="422.55" y1="232.8" x2="422.55" y2="234.60"/>
<line x1="429.10" y1="232.8" x2="429.10" y2="234.60"/>
<line x1="435.65" y1="232.8" x2="435.65" y2="234.60"/>
<line x1="442.20" y1="232.8" x2="442.20" y2="234.60"/>
<line x1="448.75" y1="232.8" x2="448.75" y2="235.40"/>
<line x1="455.30" y1="232.8" x2="455.30" y2="234.60"/>
<line x1="461.85" y1="232.8" x2="461.85" y2="234.60"/>
<line x1="468.40" y1="232.8" x2="468.40" y2="234.60"/>
<line x1="474.95" y1="232.8" x2="474.95" y2="234.60"/>
<line x1="481.50" y1="232.8" x2="481.50" y2="235.40"/>
<line x1="488.05" y1="232.8" x2="488.05" y2="234.60"/>
<line x1="494.60" y1="232.8" x2="494.60" y2="234.60"/>
<line x1="501.15" y1="232.8" x2="501.15" y2="234.60"/>
<line x1="507.70" y1="232.8" x2="507.70" y2="234.60"/>
<line x1="514.25" y1="232.8" x2="514.25" y2="235.40"/>
<line x1="520.80" y1="232.8" x2="520.80" y2="234.60"/>
<line x1="527.35" y1="232.8" x2="527.35" y2="234.60"/>
<line x1="533.90" y1="232.8" x2="533.90" y2="234.60"/>
<line x1="540.45" y1="232.8" x2="540.45" y2="234.60"/>
<line x1="547.00" y1="232.8" x2="547.00" y2="235.40"/>
<line x1="553.55" y1="232.8" x2="553.55" y2="234.60"/>
<line x1="560.10" y1="232.8" x2="560.10" y2="234.60"/>
<line x1="566.65" y1="232.8" x2="566.65" y2="234.60"/>
<line x1="573.20" y1="232.8" x2="573.20" y2="234.60"/>
<line x1="579.75" y1="232.8" x2="579.75" y2="235.40"/>
<line x1="586.30" y1="232.8" x2="586.30" y2="234.60"/>
<line x1="592.85" y1="232.8" x2="592.85" y2="234.60"/>
<line x1="599.40" y1="232.8" x2="599.40" y2="234.60"/>
<line x1="605.95" y1="232.8" x2="605.95" y2="234.60"/>
<line x1="612.50" y1="232.8" x2="612.50" y2="235.40"/>
<line x1="619.05" y1="232.8" x2="619.05" y2="234.60"/>
<line x1="625.60" y1="232.8" x2="625.60" y2="234.60"/>
<line x1="632.15" y1="232.8" x2="632.15" y2="234.60"/>
<line x1="638.70" y1="232.8" x2="638.70" y2="234.60"/>
<line x1="645.25" y1="232.8" x2="645.25" y2="235.40"/>
<line x1="651.80" y1="232.8" x2="651.80" y2="234.60"/>
<line x1="658.35" y1="232.8" x2="658.35" y2="234.60"/>
<line x1="664.90" y1="232.8" x2="664.90" y2="234.60"/>
<line x1="671.45" y1="232.8" x2="671.45" y2="234.60"/>
<line x1="678.00" y1="232.8" x2="678.00" y2="235.40"/>
</g>
<text x="350.50" y="245.90" font-family="Liberation Serif" font-size="10.6" font-weight="normal" text-anchor="middle" fill="#000" >0</text>
<text x="383.25" y="245.90" font-family="Liberation Serif" font-size="10.6" font-weight="normal" text-anchor="middle" fill="#000" >1</text>
<text x="416.00" y="245.90" font-family="Liberation Serif" font-size="10.6" font-weight="normal" text-anchor="middle" fill="#000" >2</text>
<text x="448.75" y="245.90" font-family="Liberation Serif" font-size="10.6" font-weight="normal" text-anchor="middle" fill="#000" >3</text>
<text x="481.50" y="245.90" font-family="Liberation Serif" font-size="10.6" font-weight="normal" text-anchor="middle" fill="#000" >4</text>
<text x="514.25" y="245.90" font-family="Liberation Serif" font-size="10.6" font-weight="normal" text-anchor="middle" fill="#000" >5</text>
<text x="547.00" y="245.90" font-family="Liberation Serif" font-size="10.6" font-weight="normal" text-anchor="middle" fill="#000" >6</text>
<text x="579.75" y="245.90" font-family="Liberation Serif" font-size="10.6" font-weight="normal" text-anchor="middle" fill="#000" >7</text>
<text x="612.50" y="245.90" font-family="Liberation Serif" font-size="10.6" font-weight="normal" text-anchor="middle" fill="#000" >8</text>
<text x="645.25" y="245.90" font-family="Liberation Serif" font-size="10.6" font-weight="normal" text-anchor="middle" fill="#000" >9</text>
<text x="678.00" y="245.90" font-family="Liberation Serif" font-size="10.6" font-weight="normal" text-anchor="middle" fill="#000" >10</text>
<text x="349.00" y="170.20" font-family="Liberation Serif" font-size="10.6" font-weight="normal" text-anchor="end" fill="#000" >200</text>
<text x="349.00" y="104.30" font-family="Liberation Serif" font-size="10.6" font-weight="normal" text-anchor="end" fill="#000" >400</text>
<text x="349.00" y="38.40" font-family="Liberation Serif" font-size="10.6" font-weight="normal" text-anchor="end" fill="#000" >600</text>
<text x="0.00" y="0.00" font-family="Liberation Serif" font-size="13.5" font-weight="normal" text-anchor="middle" fill="#000" transform="translate(329.4,118.2) rotate(-90)">Counts</text>
<text x="514.60" y="264.90" font-family="Liberation Serif" font-size="13.4" font-weight="normal" text-anchor="middle" fill="#000" >Energy(keV)</text>
<text x="510.00" y="285.20" font-family="Liberation Sans" font-size="13.4" font-weight="bold" text-anchor="middle" fill="#000" >(b)</text>
<text x="366.80" y="20.60" font-family="Liberation Serif" font-size="12" font-weight="normal" text-anchor="middle" fill="#000" >V</text>
<text x="366.80" y="35.80" font-family="Liberation Serif" font-size="12" font-weight="normal" text-anchor="middle" fill="#000" >O</text>
<text x="360.20" y="134.30" font-family="Liberation Serif" font-size="12" font-weight="normal" text-anchor="middle" fill="#000" >C</text>
<text x="409.20" y="181.80" font-family="Liberation Serif" font-size="12" font-weight="normal" text-anchor="middle" fill="#000" >W</text>
<text x="513.50" y="184.50" font-family="Liberation Serif" font-size="12" font-weight="normal" text-anchor="middle" fill="#000" >V</text>
<text x="529.00" y="219.30" font-family="Liberation Serif" font-size="12" font-weight="normal" text-anchor="middle" fill="#000" >V</text>
<g stroke="#000" stroke-width="1.3" fill="none">
<line x1="395.30" y1="27.2" x2="513.5" y2="27.2"/>
<line x1="395.30" y1="26.6" x2="395.30" y2="118.2"/>
<line x1="395.30" y1="27" x2="395.30" y2="25.2" stroke-width="0.9"/>
<line x1="412.13" y1="27" x2="412.13" y2="25.2" stroke-width="0.9"/>
<line x1="428.96" y1="27" x2="428.96" y2="25.2" stroke-width="0.9"/>
<line x1="445.79" y1="27" x2="445.79" y2="25.2" stroke-width="0.9"/>
<line x1="462.62" y1="27" x2="462.62" y2="25.2" stroke-width="0.9"/>
<line x1="479.45" y1="27" x2="479.45" y2="25.2" stroke-width="0.9"/>
<line x1="496.28" y1="27" x2="496.28" y2="25.2" stroke-width="0.9"/>
<line x1="513.11" y1="27" x2="513.11" y2="25.2" stroke-width="0.9"/>
</g>
<rect x="395.90" y="29.60" width="5.76" height="18" fill="#0000ff"/>
<text x="403.26" y="42.00" font-family="Liberation Serif" font-size="9.9" font-weight="bold" text-anchor="start" fill="#000" >3.78%</text>
<text x="393.10" y="41.40" font-family="Liberation Serif" font-size="6.8" font-weight="bold" text-anchor="end" fill="#000" >C</text>
<rect x="395.90" y="52.40" width="36.31" height="18" fill="#0000ff"/>
<text x="433.81" y="64.80" font-family="Liberation Serif" font-size="9.9" font-weight="bold" text-anchor="start" fill="#000" >21.93%</text>
<text x="393.10" y="64.20" font-family="Liberation Serif" font-size="6.8" font-weight="bold" text-anchor="end" fill="#000" >O</text>
<rect x="395.90" y="75.20" width="103.76" height="18" fill="#0000ff"/>
<text x="501.26" y="87.60" font-family="Liberation Serif" font-size="9.9" font-weight="bold" text-anchor="start" fill="#000" >62.01%</text>
<text x="393.10" y="87.00" font-family="Liberation Serif" font-size="6.8" font-weight="bold" text-anchor="end" fill="#000" >V</text>
<rect x="395.90" y="98.00" width="20.07" height="18" fill="#0000ff"/>
<text x="417.57" y="110.40" font-family="Liberation Serif" font-size="9.9" font-weight="bold" text-anchor="start" fill="#000" >12.28%</text>
<text x="393.10" y="109.80" font-family="Liberation Serif" font-size="6.8" font-weight="bold" text-anchor="end" fill="#000" >W</text>
<text x="395.30" y="23.10" font-family="Liberation Serif" font-size="9.4" font-weight="bold" text-anchor="middle" fill="#000" >0</text>
<text x="428.96" y="23.10" font-family="Liberation Serif" font-size="9.4" font-weight="bold" text-anchor="middle" fill="#000" >20</text>
<text x="462.62" y="23.10" font-family="Liberation Serif" font-size="9.4" font-weight="bold" text-anchor="middle" fill="#000" >40</text>
<text x="496.28" y="23.10" font-family="Liberation Serif" font-size="9.4" font-weight="bold" text-anchor="middle" fill="#000" >60</text>
<text x="454.40" y="14.40" font-family="Liberation Serif" font-size="12" font-weight="bold" text-anchor="middle" fill="#000" >w/%</text>
<text x="0.00" y="0.00" font-family="Liberation Serif" font-size="14" font-weight="bold" text-anchor="middle" fill="#000" transform="translate(384,76) rotate(-90)">Elements</text>
<g stroke="#000" stroke-width="1.3" fill="none">
<line x1="548.30" y1="27.1" x2="666" y2="27.1"/>
<line x1="548.30" y1="26.5" x2="548.30" y2="118.2"/>
<line x1="548.30" y1="27" x2="548.30" y2="25.2" stroke-width="0.9"/>
<line x1="567.83" y1="27" x2="567.83" y2="25.2" stroke-width="0.9"/>
<line x1="587.36" y1="27" x2="587.36" y2="25.2" stroke-width="0.9"/>
<line x1="606.89" y1="27" x2="606.89" y2="25.2" stroke-width="0.9"/>
<line x1="626.42" y1="27" x2="626.42" y2="25.2" stroke-width="0.9"/>
<line x1="645.95" y1="27" x2="645.95" y2="25.2" stroke-width="0.9"/>
<line x1="665.48" y1="27" x2="665.48" y2="25.2" stroke-width="0.9"/>
</g>
<rect x="548.90" y="29.70" width="20.08" height="18.2" fill="#0000ff"/>
<text x="570.58" y="42.30" font-family="Liberation Serif" font-size="9.9" font-weight="bold" text-anchor="start" fill="#000" >10.59%</text>
<text x="546.50" y="42.30" font-family="Liberation Serif" font-size="9.6" font-weight="bold" text-anchor="end" fill="#000" >C</text>
<rect x="548.90" y="52.60" width="89.55" height="18.2" fill="#0000ff"/>
<text x="640.05" y="65.20" font-family="Liberation Serif" font-size="9.9" font-weight="bold" text-anchor="start" fill="#000" >46.16%</text>
<text x="546.50" y="65.20" font-family="Liberation Serif" font-size="9.6" font-weight="bold" text-anchor="end" fill="#000" >O</text>
<rect x="548.90" y="75.50" width="79.47" height="18.2" fill="#0000ff"/>
<text x="629.97" y="88.10" font-family="Liberation Serif" font-size="9.9" font-weight="bold" text-anchor="start" fill="#000" >41.00%</text>
<text x="546.50" y="88.10" font-family="Liberation Serif" font-size="9.6" font-weight="bold" text-anchor="end" fill="#000" >V</text>
<rect x="548.90" y="98.40" width="3.79" height="18.2" fill="#0000ff"/>
<text x="554.29" y="111.00" font-family="Liberation Serif" font-size="9.9" font-weight="bold" text-anchor="start" fill="#000" >2.25%</text>
<text x="546.50" y="111.00" font-family="Liberation Serif" font-size="9.6" font-weight="bold" text-anchor="end" fill="#000" >W</text>
<text x="548.30" y="23.30" font-family="Liberation Serif" font-size="9.4" font-weight="bold" text-anchor="middle" fill="#000" >0</text>
<text x="587.36" y="23.30" font-family="Liberation Serif" font-size="9.4" font-weight="bold" text-anchor="middle" fill="#000" >20</text>
<text x="626.42" y="23.30" font-family="Liberation Serif" font-size="9.4" font-weight="bold" text-anchor="middle" fill="#000" >40</text>
<text x="665.48" y="23.30" font-family="Liberation Serif" font-size="9.4" font-weight="bold" text-anchor="middle" fill="#000" >60</text>
<text x="606.80" y="14.20" font-family="Liberation Serif" font-size="12" font-weight="bold" text-anchor="middle" fill="#000" >n/%</text>
</svg>
</body></html>
